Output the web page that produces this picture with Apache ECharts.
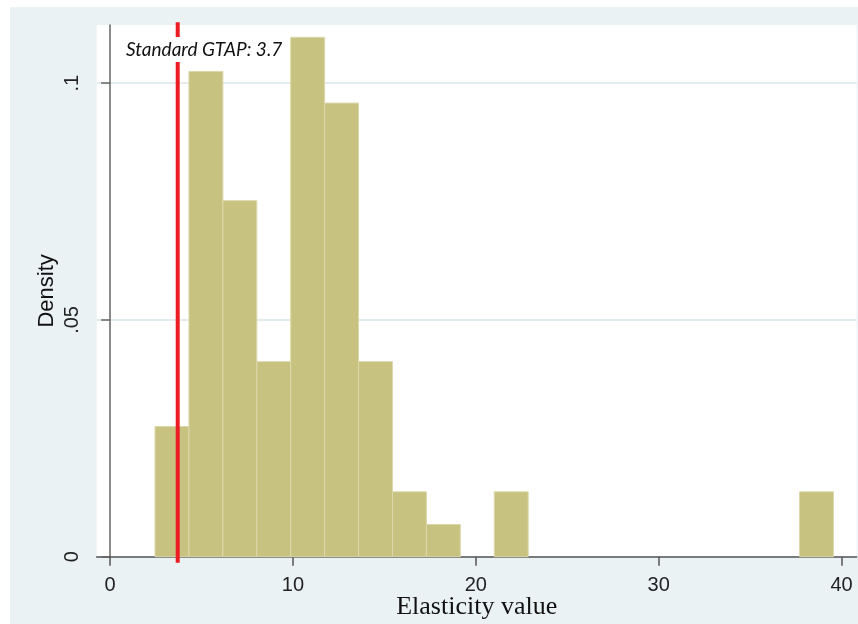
<!DOCTYPE html>
<html>
<head>
<meta charset="utf-8">
<script src="https://cdn.jsdelivr.net/npm/echarts@6/dist/echarts.min.js"></script>
<style>
  html, body { margin: 0; padding: 0; background: #fff; }
  #chart { width: 858px; height: 624px; }
</style>
</head>
<body>
<div id="chart"></div>
<script>
// histogram bins (elasticity value), equal width
var binStart = 2.46;
var binWidth = 1.855;
// density of each bin
var density = [0.0275, 0.1025, 0.0752, 0.0412, 0.1097, 0.0958, 0.0412, 0.0137, 0.0068, 0,
               0.0137, 0, 0, 0, 0, 0, 0, 0, 0, 0.0137];
var xTicks = [0, 10, 20, 30, 40];
var yTicks = [0, 0.05, 0.1];
var yTickLabels = ['0', '.05', '.1'];
var gtap = 3.7;

var chart = echarts.init(document.getElementById('chart'));

var bins = [];
density.forEach(function (d, i) {
    if (d > 0) bins.push([binStart + i * binWidth, binStart + (i + 1) * binWidth, d]);
});

var option = {
    backgroundColor: '#fff',
    animation: false,
    graphic: [{
        type: 'rect',
        z: -10,
        silent: true,
        shape: {x: 10, y: 7, width: 848, height: 617},
        style: {fill: '#eaf2f3'}
    }, {
        type: 'text',
        left: 124,
        top: 37,
        z: 100,
        style: {
            text: 'Standard GTAP: 3.7',
            font: 'italic 19px Lato',
            fill: '#111',
            backgroundColor: '#fff',
            padding: [3, 2, 3, 2]
        }
    }],
    grid: {
        left: 96.7, top: 25, right: 1.3, bottom: 67.3,
        outerBoundsMode: 'none', containLabel: false,
        show: true, backgroundColor: '#fff', borderWidth: 0
    },
    xAxis: {
        type: 'value',
        min: -0.73,
        max: 40.83,
        name: 'Elasticity value',
        nameLocation: 'middle',
        nameGap: 37,
        nameMoveOverlap: false,
        nameTextStyle: {fontFamily: 'Liberation Serif', fontSize: 26, color: '#111'},
        axisLine: {show: true, lineStyle: {color: '#555', width: 1.5}},
        axisTick: {show: true, length: 9, customValues: xTicks, lineStyle: {color: '#555', width: 1.5}},
        axisLabel: {customValues: xTicks, margin: 19, fontFamily: 'Liberation Sans', fontSize: 20, color: '#222'},
        splitLine: {show: false}
    },
    yAxis: {
        type: 'value',
        min: 0,
        max: 0.1123,
        name: 'Density',
        nameLocation: 'middle',
        nameRotate: 90,
        nameGap: 39,
        nameMoveOverlap: false,
        nameTextStyle: {fontFamily: 'Liberation Sans', fontSize: 22, color: '#111'},
        axisLine: {show: true, lineStyle: {color: '#666', width: 1.5}},
        axisTick: {show: true, length: 9, customValues: yTicks, lineStyle: {color: '#666', width: 1.5}},
        axisLabel: {
            customValues: yTicks, rotate: 90, margin: 14,
            fontFamily: 'Liberation Sans', fontSize: 20, color: '#222',
            formatter: function (v) { return yTickLabels[yTicks.indexOf(v)] || ''; }
        },
        splitLine: {show: true, lineStyle: {color: '#e3ecef', width: 2}}
    },
    series: [{
        type: 'custom',
        data: bins,
        encode: {x: [0, 1], y: 2},
        renderItem: function (params, api) {
            var p0 = api.coord([api.value(0), api.value(2)]);
            var p1 = api.coord([api.value(1), 0]);
            return {
                type: 'rect',
                shape: {x: p0[0], y: p0[1], width: p1[0] - p0[0], height: p1[1] - p0[1]},
                style: {fill: '#c8c280', stroke: '#dcd8aa', lineWidth: 1}
            };
        }
    }, {
        type: 'line',
        z: 5,
        clip: false,
        symbol: 'none',
        data: [[gtap, -0.0013], [gtap, 0.1129]],
        lineStyle: {color: '#ec1c24', width: 4}
    }]
};
chart.setOption(option);
</script>
</body>
</html>
